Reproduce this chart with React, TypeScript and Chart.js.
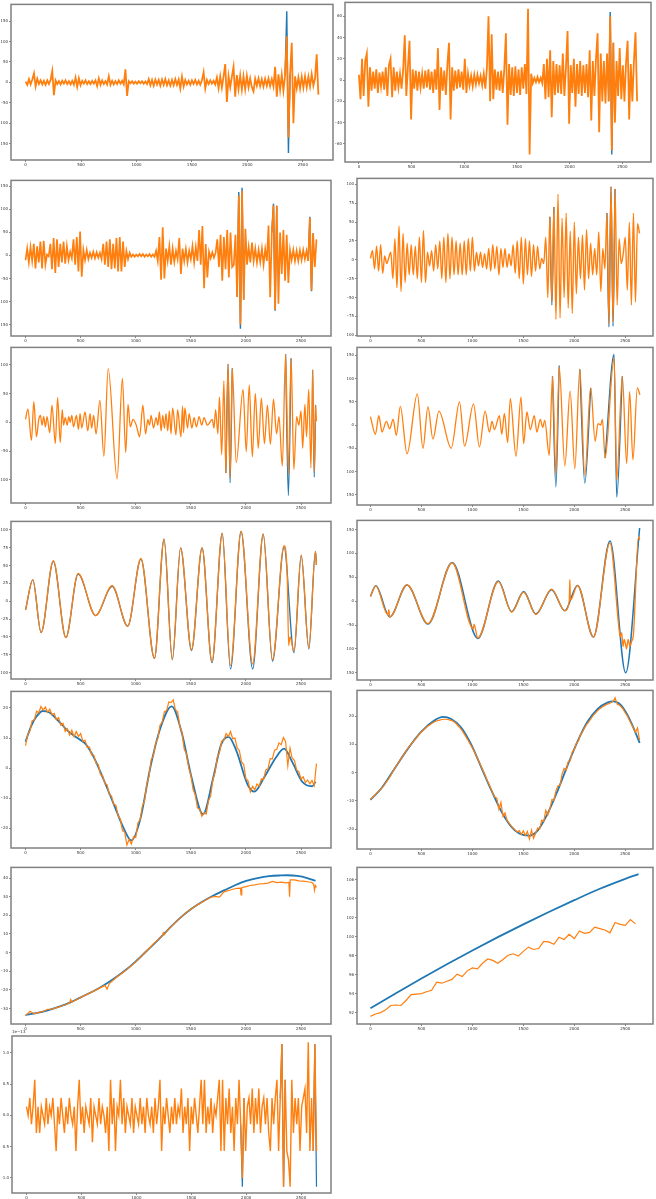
import React, { useEffect, useRef } from "react";
import { Chart, registerables } from "chart.js";
Chart.register(...registerables);

const BLUE = "#1f77b4";
const ORANGE = "#ff7f0e";
const X_TICKS = [0, 500, 1000, 1500, 2000, 2500];
const X_MIN = -132;
const X_MAX = 2772;

// ---------- Panel 1 (step 15) ----------
const P1_ORANGE = [
  2,-6,8,-5,7,22,-10,9,-4,5,
  -5,4,-6,5,-4,6,28,-31,5,-4,
  3,-5,4,-3,5,-4,3,-5,4,-6,
  12,-11,10,-7,4,-3,5,-4,3,-4,
  4,-3,5,-9,10,-6,5,-4,3,-5,
  15,-6,4,-5,3,-4,5,-3,4,-5,
  32,-33,3,-2,3,-3,2,-3,3,-2,
  3,-3,2,-4,8,-7,6,-8,7,-5,
  6,-8,7,-6,8,-7,5,-8,6,-7,
  8,-6,7,-15,14,-10,6,-5,4,-6,
  5,-4,6,-5,4,-6,5,25,-15,6,
  -4,5,-3,4,-5,12,-14,15,-13,14,
  45,-48,15,-12,14,38,-35,18,-16,17,
  -18,15,-17,16,-12,10,-12,-22,9,-8,
  10,-9,8,-10,9,-8,10,-9,8,-10,
  38,-35,20,-18,19,-20,18,113,-135,20,
  97,-100,15,-14,12,-15,14,-13,15,-12,
  14,-10,20,-8,10,69,-30,
];
const P1_BLUE_X = [2340, 2355, 2370, 2385];
const P1_BLUE_Y = [18, 174, -173, 20];
const P1_Y_TICKS = [-150, -100, -50, 0, 50, 100, 150];

// ---------- Panel 2 (step 15) ----------
const P2_ORANGE = [
  5,-18,20,-15,18,25,-25,12,-10,8,
  -8,10,-12,7,-6,8,-9,12,-15,14,
  20,-16,12,-10,8,-7,6,-8,10,42,
  -15,12,37,-37,10,-8,9,-10,8,-7,
  6,-8,9,-7,10,-9,8,-12,10,-9,
  30,-28,12,-10,9,-14,15,35,-37,12,
  -10,9,-8,10,-7,8,-9,20,-12,6,
  -5,4,-6,5,-4,5,-3,4,-5,6,
  -8,12,60,-20,43,-18,10,-9,8,-10,
  9,-12,11,44,-42,15,-14,12,-15,13,
  -12,10,-14,12,-8,15,-13,67,-70,6,
  -3,2,-2,3,-2,2,-3,15,-18,20,
  -16,28,-35,18,-14,15,-12,14,-13,25,
  -15,12,46,-41,14,-12,20,-25,15,-13,
  18,-15,14,-12,15,-16,28,-38,18,-15,
  20,44,-49,25,-20,18,-22,25,-20,60,
  -66,35,-40,18,-15,30,-18,14,-20,16,
  37,-37,15,-20,18,45,-20,
];
const P2_BLUE_X = [2370, 2385, 2400, 2415];
const P2_BLUE_Y = [-20, 64, -70, 35];
const P2_Y_TICKS = [-60, -40, -20, 0, 20, 40, 60];

// ---------- Panel 3 (step 15) ----------
const P3_ORANGE = [
  -10,15,-15,18,-12,25,-28,20,-15,30,
  -28,32,-20,2,-2,25,-30,38,-38,35,
  -25,25,-15,30,-18,20,-10,8,-6,35,
  -20,40,-35,52,-46,12,-10,12,-8,6,
  -5,8,-6,7,-5,6,-8,25,-20,30,
  -25,35,-30,25,-28,38,-35,40,-35,30,
  -25,10,-8,6,-3,2,-3,2,-2,3,
  -2,3,-3,2,-2,3,-3,2,-3,10,
  -12,40,-53,61,-50,15,-12,20,-20,15,
  -14,10,-8,38,-40,15,-12,14,-15,10,
  -8,20,-15,18,-12,55,-20,64,-71,25,
  -48,8,-6,7,-5,6,35,-25,45,-55,
  40,-30,55,-48,50,-25,-20,45,-90,130,
  -150,140,-96,58,-20,18,-15,28,-12,15,
  -15,12,-14,15,-20,14,-12,65,-91,50,
  109,-118,108,-105,50,-40,55,-55,45,-60,
  12,-10,12,-12,10,-12,11,-10,12,-8,
  10,-12,82,-76,48,-25,35,
];
const P3_BLUE_X = [1920, 1935, 1950, 1965, 1980, 1985, 2235, 2250, 2265, 2280, 2290, 2565, 2580, 2595, 2610];
const P3_BLUE_Y = [-90, 138, -159, 147, -96, null, 50, 112, -120, 108, null, -12, 84, -78, 48];
const P3_Y_TICKS = [-150, -100, -50, 0, 50, 100, 150];

// ---------- Panel 4 (step 20) ----------
const P4_ORANGE = [
  2,12,-12,18,-15,20,-18,5,-5,3,
  10,-25,28,-37,45,-42,35,-30,22,-20,
  20,-20,18,-25,30,-30,39,-30,10,-8,
  12,-15,20,-12,25,-25,30,-30,35,-25,
  30,-20,25,-20,22,-20,25,-20,28,-15,
  30,-15,10,-8,10,-10,8,-12,15,-15,
  20,-12,18,-20,15,-10,15,-10,8,-8,
  20,-18,25,-25,30,-32,28,-20,25,-22,
  20,-15,18,-12,2,-5,30,-50,57,-55,
  70,-79,87,-77,55,-50,62,-64,38,-71,
  50,-45,30,-25,33,-40,40,-25,22,-20,
  15,-20,37,-42,15,-12,62,-85,97,-82,
  94,-60,28,-5,8,30,-40,50,-60,62,
  -56,48,35,
];
const P4_BLUE_X = [1760, 1780, 1800, 1805, 2320, 2340, 2360, 2380, 2400];
const P4_BLUE_Y = [57, -60, 70, null, 62, -89, 97, -88, 94];
const P4_Y_TICKS = [-100, -75, -50, -25, 0, 25, 50, 75, 100];

// ---------- Panel 5 ----------
const P5_ORANGE_X = [
  0,21,54,75,99,120,135,150,165,180,
  195,219,240,270,291,315,333,345,360,378,
  392,405,420,435,462,480,495,510,540,565,
  585,600,618,640,675,711,750,831,879,909,
  930,951,975,1005,1035,1065,1089,1110,1125,1140,
  1161,1185,1200,1215,1230,1245,1260,1275,1290,1305,
  1320,1335,1365,1380,1410,1425,1434,1446,1470,1485,
  1509,1530,1551,1575,1599,1620,1650,1695,1710,1725,
  1745,1760,1780,1800,1818,1838,1856,1876,1912,1974,
  2003,2030,2058,2085,2112,2140,2168,2195,2222,2250,
  2278,2300,2330,2360,2385,2410,2435,2460,2480,2500,
  2515,2535,2550,2570,2590,2605,2620,2632,2640,
];
const P5_ORANGE_Y = [
  5,23,-31,36,-25,5,12,-5,10,-8,
  10,-18,30,-37,43,-35,22,-5,8,-5,
  10,0,12,-8,12,-12,15,-10,18,-15,
  15,-10,12,-20,38,-59,93,-98,76,-52,
  31,-8,5,-5,-25,30,-20,5,-5,12,
  -10,8,-5,18,-15,12,-10,15,-15,20,
  -20,25,-22,22,-25,28,-18,25,-10,15,
  -10,8,-8,10,-5,8,-5,5,-10,22,
  -20,44,-56,72,-88,101,-96,94,-70,57,
  -51,65,-60,50,-45,42,-37,30,-38,40,
  -20,10,-76,118,-90,111,-82,10,-5,20,
  -45,31,-25,57,-79,91,-86,30,2,
];
const P5_BLUE_X = [1818, 1838, 1856, 1876, 1877, 2360, 2385, 2410, 2411, 2605, 2620, 2632];
const P5_BLUE_Y = [-88, 101, -105, 94, null, 118, -127, 111, null, 91, -95, 30];
const P5_Y_TICKS = [-100, -50, 0, 50, 100];

// ---------- Panel 6 ----------
const P6_ORANGE_X = [
  0,49,82,114,156,189,222,254,293,359,
  460,515,564,613,672,792,874,923,1011,1069,
  1125,1167,1193,1216,1265,1288,1314,1346,1372,1428,
  1477,1503,1535,1568,1607,1633,1666,1690,1710,1754,
  1786,1819,1852,1907,1959,2005,2054,2103,2161,2204,
  2233,2259,2276,2302,2390,2416,2471,2514,2543,2575,
  2618,2644,
];
const P6_ORANGE_Y = [
  18,-20,20,-15,8,-8,12,-22,40,-62,
  67,-50,39,-30,30,-50,50,-45,45,-47,
  30,-15,8,-10,20,-20,25,-38,57,-67,
  60,-40,28,-10,20,-15,12,-5,10,-65,
  105,-105,125,-88,73,-94,120,-108,80,-35,
  3,0,12,-71,145,-118,105,-83,72,-75,
  80,65,
];
const P6_BLUE_X = [1786, 1819, 1852, 1853, 2054, 2103, 2161, 2162, 2302, 2390, 2416, 2471];
const P6_BLUE_Y = [105, -133, 128, null, 120, -125, 80, null, -71, 152, -155, 105];
const P6_Y_TICKS = [-150, -100, -50, 0, 50, 100, 150];

// ---------- Panel 7 ----------
const P7_ORANGE_X = [0,66,141,252,366,477,636,786,927,1047,1170,1257,1332,1407,1506,1602,1692,1785,1860,1956,2061,2157,2241,2346,2375,2388,2400,2436,2502,2571,2631,2640];
const P7_ORANGE_Y = [-12,30,-44,57,-51,39,-20,22,-35,60,-80,87,-82,75,-68,75,-85,95,-90,98,-88,94,-82,78,35,-62,-50,-70,65,-66,70,51];
const P7_BLUE_X = [0,66,141,252,366,477,636,786,927,1047,1170,1257,1332,1407,1506,1602,1692,1785,1860,1956,2061,2157,2241,2346,2436,2502,2571,2631,2640];
const P7_BLUE_Y = [-12,30,-44,56,-51,38,-20,21,-35,59,-80,87,-82,75,-69,75,-86,95,-95,98,-95,94,-84,76,-72,64,-67,70,51];
const P7_Y_TICKS = [-100, -75, -50, -25, 0, 25, 50, 75, 100];

// ---------- Panel 8 ----------
const P8_ORANGE_X = [0,52,170,180,189,359,564,802,1010,1016,1053,1255,1386,1503,1623,1777,1907,1950,1956,1962,2031,2188,2350,2440,2452,2465,2478,2490,2502,2512,2528,2545,2560,2580,2630,2641];
const P8_ORANGE_Y = [10,32,-28,-18,-33,34,-47,80,-58,-48,-77,41,-23,19,-28,25,-20,0,45,2,33,-75,122,-60,-75,-66,-95,-80,-90,-100,-80,-95,-85,-70,135,128];
const P8_BLUE_X = [0,52,189,359,564,802,1053,1255,1386,1503,1623,1777,1907,2031,2188,2350,2504,2641];
const P8_BLUE_Y = [10,32,-33,34,-48,81,-78,42,-22,20,-27,24,-20,33,-75,126,-150,153];
const P8_Y_TICKS = [-150, -100, -50, 0, 50, 100, 150];

// ---------- Panel 9 ----------
const P9_ORANGE = [
  7.5,11.2,12.4,15.8,16.1,18.9,18.4,20.5,19.3,20.3,
  18.6,19.6,17.8,18.2,16.1,16.8,14.3,14.9,12.2,13.1,
  11,12.6,10.4,12.2,10.6,11.5,9,9.3,6.9,7,
  4.4,4.3,1.6,1.2,-2.1,-2.5,-5.2,-5.5,-8.8,-9.2,
  -12,-12.3,-15.8,-16.9,-20.8,-21.2,-25.5,-23.6,-25.2,-22.8,
  -23,-18.2,-17,-12.6,-10.8,-5.3,-2.7,2.8,4,8.2,
  9.8,14.3,15.3,18.8,19.1,22,21.8,22.7,19.4,18.7,
  14,11.8,6.3,4.8,0.3,-2.3,-7,-8.8,-13.2,-13.6,
  -16,-14.8,-15.2,-10.8,-9.2,-3.8,-1.4,3.7,5.3,9,
  9.3,11.5,10.5,12.2,9.8,10,6.8,5.9,2.1,1.2,
  -3.5,-4.3,-7.9,-6,-7.2,-5.3,-6,-3.6,-3.7,-0.6,
  -0.2,3.2,3.1,6,6.3,8.4,7.8,10.2,8.9,0.8,
  6.7,3.3,2.6,-0.6,-1.1,-3.6,-2.9,-4.8,-3.9,-5.2,
  -4.1,-5.8,1.5,
];
const P9_BLUE_X = [0,51,96,156,216,291,381,471,546,621,711,801,891,960,1041,1131,1221,1326,1416,1506,1611,1701,1776,1842,1911,2016,2076,2166,2271,2346,2421,2511,2601,2631];
const P9_BLUE_Y = [8.8,14,17,19,18.5,16,12.5,10,8,3.5,-4,-12,-20,-24,-17,0,13,20.5,12,-3,-15.3,-3.5,8,10.4,6,-5.5,-7.8,-3,3.5,6.5,2,-4.5,-6,-4.5];
const P9_Y_TICKS = [-20, -10, 0, 10, 20];

// ---------- Panel 10 ----------
const P10_ORANGE = [
  -9.4,-8.8,-8.1,-7.3,-6.5,-5.8,-5,-4.1,-3.1,-2.1,
  -0.9,0.4,1.6,2.7,3.8,4.9,6,7.1,8.2,9.2,
  10.1,11,11.9,12.8,13.6,14.4,15.1,15.8,16.4,16.9,
  17.4,17.8,18.2,18.4,18.6,18.8,18.9,18.9,18.8,18.6,
  18.4,18,17.4,16.6,15.8,14.8,13.7,12.5,11.3,10,
  8.7,7.3,5.8,4.3,2.7,1.1,-0.5,-2.3,-3.8,-5.5,
  -7.2,-8.6,-9,-13,-10.5,-15.5,-14.2,-16.8,-17.8,-18.8,
  -19.6,-20.3,-21,-20.5,-21.8,-20.6,-22.2,-20.8,-23.5,-20.3,
  -23.2,-21.5,-19.6,-20,-16.8,-17.3,-13.3,-15,-12.8,-9.5,
  -9.8,-6.4,-4.6,-4.5,-0.5,1.5,0.8,3.9,4.2,7.4,
  8.1,10.4,11.2,13.4,14.4,15.8,17,17.9,18.9,20,
  20.8,21.6,22.3,22.9,23.4,23.8,24.2,24.4,24.8,25.2,
  26.5,24.3,23.9,23.3,22.4,21.2,20.1,18.6,17.2,15.7,
  14.3,15.8,11.5,
];
const P10_BLUE_X = [0,108,238,368,499,629,711,792,890,988,1086,1183,1281,1379,1460,1558,1640,1738,1835,1933,2031,2129,2227,2324,2383,2455,2520,2585,2641];
const P10_BLUE_Y = [-9.6,-5.5,1.5,8.5,14.5,18.5,19.7,19,16,10,2,-6,-13.5,-19,-21.5,-22.3,-20.5,-14.5,-6.5,2.5,11,18,22.5,24.8,25.2,24,20.5,15.5,10.5];
const P10_Y_TICKS = [-20, -10, 0, 10, 20];

// ---------- Panel 11 ----------
const P11_ORANGE_X = [
  0,40,80,120,160,200,240,280,320,360,
  400,410,420,440,480,520,560,600,640,680,
  720,740,760,800,840,880,920,960,1000,1040,
  1080,1120,1160,1200,1240,1250,1260,1280,1320,1360,
  1400,1440,1480,1520,1560,1600,1640,1680,1720,1760,
  1800,1840,1880,1920,1950,1956,1962,2000,2040,2080,
  2120,2160,2200,2240,2280,2320,2360,2390,2396,2402,
  2440,2480,2520,2560,2600,2615,2622,2630,2640,
];
const P11_ORANGE_Y = [
  -33.8,-31.5,-32.9,-32.1,-31.6,-30.4,-30.3,-29.5,-28.8,-28,
  -27,-25.2,-26.6,-26,-24.8,-23.5,-22.4,-21.2,-20,-18.8,
  -17.6,-19.6,-16.6,-14.6,-12.6,-10.8,-9,-7.1,-5,-2.6,
  -0.2,2.2,4.6,6.8,9,10.6,9.6,11.5,13.8,16.2,
  18.5,20.5,22.4,24,25.6,27,28.4,29.7,30.2,29.8,
  32.6,33.2,34,34.5,34.6,31,34.8,35.4,36,36.3,
  36.8,37,37.3,38.2,37.5,37.8,37.4,37.6,30,39,
  39,38.5,38.3,38,37.6,36.6,33.4,36,35,
];
const P11_BLUE_X = [0,96,201,306,396,501,606,696,801,906,996,1101,1206,1296,1401,1506,1596,1701,1806,1896,2001,2106,2211,2316,2376,2466,2556,2631];
const P11_BLUE_Y = [-33.5,-32.5,-31,-29,-27,-24,-21,-18,-14,-9.5,-5,1,7,12.5,18.5,23.5,27,30.5,33.5,36,38.5,40,41,41.4,41.5,41.1,40,38.5];
const P11_Y_TICKS = [-30, -20, -10, 0, 10, 20, 30, 40];

// ---------- Panel 12 (orange step 50) ----------
const P12_ORANGE = [
  91.6,91.85,92.0,92.3,92.75,92.8,92.75,93.3,93.9,93.95,
  94.0,94.2,94.35,95.2,95.1,95.3,95.5,96.05,95.8,96.4,
  96.7,96.6,97.2,97.65,97.5,97.2,97.6,98.05,98.2,97.95,
  98.45,98.9,98.65,98.75,99.5,99.45,99.2,99.95,99.7,100.25,
  99.8,100.6,100.35,100.45,101.0,100.85,100.7,100.4,101.5,101.3,
  101.2,101.8,101.35,
];
const P12_BLUE_X = [0,250,500,750,1000,1250,1500,1750,2000,2250,2500,2630];
const P12_BLUE_Y = [92.45,94.05,95.6,97.1,98.55,99.95,101.3,102.6,103.85,105.05,106.1,106.6];
const P12_Y_TICKS = [92, 94, 96, 98, 100, 102, 104, 106];

// ---------- Panel 13 (step 15, x1e-13) ----------
const P13_ORANGE = [
  0.14,0,0.28,-0.14,0.14,0.57,-0.28,0.14,-0.28,0.14,
  0,-0.14,0.28,-0.14,0.14,0,0.28,-0.14,-0.57,0.14,
  -0.14,0.28,0,-0.28,0.14,-0.14,0.28,0,-0.14,0.14,
  -0.57,0.14,0.57,-0.14,0.14,-0.28,0.14,0,-0.14,0.28,
  -0.43,0.14,0,-0.14,0.28,-0.14,0.14,0,-0.28,0.14,
  -0.57,0.57,-0.14,0.28,-0.57,0.14,0,0.57,-0.14,0.28,
  -0.28,0.14,0,-0.14,0.28,-0.28,0.14,0,-0.14,0.28,
  -0.14,0.14,-0.28,0.28,0,-0.14,0.14,-0.28,0.28,-0.14,
  0.14,0.57,-0.57,0.14,-0.14,0.28,0,-0.28,0.14,-0.14,
  0.28,-0.14,0.14,0,0.43,-0.28,0.14,-0.14,0.28,-0.57,
  0.14,-0.14,0.28,0,-0.28,0.14,0.57,-0.14,0.57,-0.28,
  0.14,-0.14,0.28,-0.28,0.14,0,0.28,0.57,-0.57,0.57,
  -0.57,0.28,-0.14,0.43,-0.28,0.14,-0.57,0.28,-0.14,0.57,
  -0.14,-1.0,0.28,-0.57,0.14,0.28,-0.14,0.43,-0.28,0.28,
  -0.14,0.43,-0.28,0.14,0.28,-0.14,0.28,-0.28,-0.57,0.28,
  -0.14,0.28,0.57,-0.57,0.28,1.14,-1.14,0.57,-0.57,-0.71,
  -1.14,0.57,-0.28,0.28,-0.14,0.28,-0.57,0.14,0.28,0.43,
  -0.28,1.17,-0.57,0.28,-0.57,1.14,-0.57,
];
const P13_BLUE_X = [1950, 1965, 1980, 1981, 2310, 2325, 2340, 2355, 2356, 2610, 2625, 2640];
const P13_BLUE_Y = [-0.14, -1.14, 0.28, null, 0.28, 1.14, -1.14, 0.57, null, -0.57, 1.14, -1.14];
const P13_Y_TICKS = [-1, -0.5, 0, 0.5, 1];

// ---------- helpers ----------
const stepX = (ys: unknown[], step: number) => ys.map((_, i) => i * step);

type Mode = "line" | "smooth" | "step";
interface SeriesDef { x: number[]; y: (number | null)[]; color: string; width: number; mode: Mode; }
interface PanelDef {
  box: { l: number; t: number; r: number; b: number };
  yMin: number; yMax: number; yTicks: number[];
  series: SeriesDef[]; exp?: string; decimals?: number;
}

const S = (x: number[], y: (number | null)[], color: string, width: number, mode: Mode): SeriesDef => ({ x, y, color, width, mode });

const PANELS: PanelDef[] = [
  { box: { l: 11, t: 3, r: 333, b: 160 }, yMin: -190, yMax: 191, yTicks: P1_Y_TICKS,
    series: [S(stepX(P1_ORANGE, 15), P1_ORANGE, ORANGE, 1.8, "line"), S(P1_BLUE_X, P1_BLUE_Y, BLUE, 1.4, "line")] },
  { box: { l: 345, t: 1, r: 651, b: 162 }, yMin: -77, yMax: 73, yTicks: P2_Y_TICKS,
    series: [S(stepX(P2_ORANGE, 15), P2_ORANGE, ORANGE, 1.8, "line"), S(P2_BLUE_X, P2_BLUE_Y, BLUE, 1.4, "line")] },
  { box: { l: 11, t: 179, r: 331, b: 336 }, yMin: -175, yMax: 163, yTicks: P3_Y_TICKS,
    series: [S(stepX(P3_ORANGE, 15), P3_ORANGE, ORANGE, 1.7, "line"), S(P3_BLUE_X, P3_BLUE_Y, BLUE, 1.4, "line")] },
  { box: { l: 357, t: 177, r: 653, b: 336 }, yMin: -101, yMax: 108, yTicks: P4_Y_TICKS,
    series: [S(stepX(P4_ORANGE, 20), P4_ORANGE, ORANGE, 1.4, "smooth"), S(P4_BLUE_X, P4_BLUE_Y, BLUE, 1.4, "smooth")] },
  { box: { l: 11, t: 346, r: 331, b: 503 }, yMin: -140, yMax: 130, yTicks: P5_Y_TICKS,
    series: [S(P5_ORANGE_X, P5_ORANGE_Y, ORANGE, 1.3, "smooth"), S(P5_BLUE_X, P5_BLUE_Y, BLUE, 1.3, "smooth")] },
  { box: { l: 357, t: 346, r: 653, b: 505 }, yMin: -172, yMax: 167, yTicks: P6_Y_TICKS,
    series: [S(P6_ORANGE_X, P6_ORANGE_Y, ORANGE, 1.3, "smooth"), S(P6_BLUE_X, P6_BLUE_Y, BLUE, 1.3, "smooth")] },
  { box: { l: 11, t: 520, r: 331, b: 679 }, yMin: -109, yMax: 112, yTicks: P7_Y_TICKS,
    series: [S(P7_ORANGE_X, P7_ORANGE_Y, ORANGE, 1.3, "smooth"), S(P7_BLUE_X, P7_BLUE_Y, BLUE, 1.3, "smooth")] },
  { box: { l: 357, t: 519, r: 653, b: 680 }, yMin: -165, yMax: 169, yTicks: P8_Y_TICKS,
    series: [S(P8_ORANGE_X, P8_ORANGE_Y, ORANGE, 1.3, "smooth"), S(P8_BLUE_X, P8_BLUE_Y, BLUE, 1.5, "smooth")] },
  { box: { l: 11, t: 690, r: 331, b: 848 }, yMin: -26.5, yMax: 25.5, yTicks: P9_Y_TICKS,
    series: [S(stepX(P9_ORANGE, 20), P9_ORANGE, ORANGE, 1.2, "line"), S(P9_BLUE_X, P9_BLUE_Y, BLUE, 1.8, "smooth")] },
  { box: { l: 357, t: 689, r: 653, b: 849 }, yMin: -27, yMax: 29.1, yTicks: P10_Y_TICKS,
    series: [S(stepX(P10_ORANGE, 20), P10_ORANGE, ORANGE, 1.2, "line"), S(P10_BLUE_X, P10_BLUE_Y, BLUE, 1.8, "smooth")] },
  { box: { l: 11, t: 866, r: 331, b: 1024 }, yMin: -38.3, yMax: 45.7, yTicks: P11_Y_TICKS,
    series: [S(P11_ORANGE_X, P11_ORANGE_Y, ORANGE, 1.2, "line"), S(P11_BLUE_X, P11_BLUE_Y, BLUE, 1.8, "smooth")] },
  { box: { l: 357, t: 866, r: 653, b: 1024 }, yMin: 90.8, yMax: 107.3, yTicks: P12_Y_TICKS,
    series: [S(stepX(P12_ORANGE, 50), P12_ORANGE, ORANGE, 1.2, "line"), S(P12_BLUE_X, P12_BLUE_Y, BLUE, 1.8, "smooth")] },
  { box: { l: 12, t: 1036, r: 331, b: 1193 }, yMin: -1.24, yMax: 1.27, yTicks: P13_Y_TICKS, exp: "1e\u221213", decimals: 1,
    series: [S(stepX(P13_ORANGE, 15), P13_ORANGE, ORANGE, 1.4, "line"), S(P13_BLUE_X, P13_BLUE_Y, BLUE, 1.2, "line")] },
];

const YW = 10;
const XH = 9;
const FONT = { family: "DejaVu Sans", size: 4 };

const framePlugin = {
  id: "frame",
  afterDatasetsDraw(chart: any) {
    const { ctx, chartArea: a } = chart;
    ctx.save();
    ctx.strokeStyle = "#808080";
    ctx.lineWidth = 1.5;
    ctx.strokeRect(a.left, a.top, a.right - a.left, a.bottom - a.top);
    ctx.restore();
  },
};

const minus = (s: string) => s.replace("-", "\u2212");

function Panel({ def }: { def: PanelDef }) {
  const ref = useRef<HTMLCanvasElement>(null);
  const PT = def.exp ? 8 : 2;
  const PR = 2;
  const { l, t, r, b } = def.box;
  const style: React.CSSProperties = {
    position: "absolute",
    left: l - YW,
    top: t - PT,
    width: r - l + YW + PR,
    height: b - t + PT + XH,
  };
  useEffect(() => {
    const fmtY = (v: number) => minus(def.decimals ? v.toFixed(def.decimals) : String(v));
    const fmtX = (v: number) => minus(String(v));
    const plugins: any[] = [framePlugin];
    if (def.exp) {
      const text = def.exp;
      plugins.push({
        id: "exp",
        afterDraw(chart: any) {
          const { ctx, chartArea } = chart;
          ctx.save();
          ctx.font = '4px "DejaVu Sans"';
          ctx.fillStyle = "#333";
          ctx.textBaseline = "bottom";
          ctx.fillText(text, chartArea.left, chartArea.top - 2);
          ctx.restore();
        },
      });
    }
    const chart = new Chart(ref.current as HTMLCanvasElement, {
      type: "line",
      data: {
        datasets: def.series.map((s) => ({
          data: s.x.map((x, i) => ({ x, y: s.y[i] })),
          borderColor: s.color,
          backgroundColor: s.color,
          borderWidth: s.width,
          pointRadius: 0,
          fill: false,
          tension: 0,
          cubicInterpolationMode: s.mode === "smooth" ? "monotone" : "default",
          stepped: s.mode === "step" ? "before" : false,
          spanGaps: false,
        })),
      },
      options: {
        animation: false,
        responsive: true,
        maintainAspectRatio: false,
        devicePixelRatio: 1,
        layout: { padding: { top: PT, right: PR, left: 0, bottom: 0 } },
        plugins: { legend: { display: false }, tooltip: { enabled: false } },
        scales: {
          x: {
            type: "linear",
            min: X_MIN,
            max: X_MAX,
            afterBuildTicks: (a: any) => { a.ticks = X_TICKS.map((v) => ({ value: v })); },
            afterFit: (a: any) => { a.height = XH; },
            ticks: { font: FONT, color: "#333", padding: 1, maxRotation: 0, autoSkip: false, callback: (v: any) => fmtX(Number(v)) },
            grid: { display: true, drawOnChartArea: false, drawTicks: true, tickLength: 2, color: "#555", lineWidth: 0.7 },
            border: { display: false },
          },
          y: {
            type: "linear",
            min: def.yMin,
            max: def.yMax,
            afterBuildTicks: (a: any) => { a.ticks = def.yTicks.map((v) => ({ value: v })); },
            afterFit: (a: any) => { a.width = YW; },
            ticks: { font: FONT, color: "#333", padding: 1, autoSkip: false, callback: (v: any) => fmtY(Number(v)) },
            grid: { display: true, drawOnChartArea: false, drawTicks: true, tickLength: 2, color: "#555", lineWidth: 0.7 },
            border: { display: false },
          },
        },
      } as any,
      plugins,
    });
    return () => chart.destroy();
  }, []);
  return (
    <div style={style}>
      <canvas ref={ref} />
    </div>
  );
}

export default function App() {
  return (
    <div style={{ position: "absolute", left: 0, top: 0, width: 656, height: 1199, background: "#fff", overflow: "hidden" }}>
      {PANELS.map((p, i) => (
        <Panel key={i} def={p} />
      ))}
    </div>
  );
}
